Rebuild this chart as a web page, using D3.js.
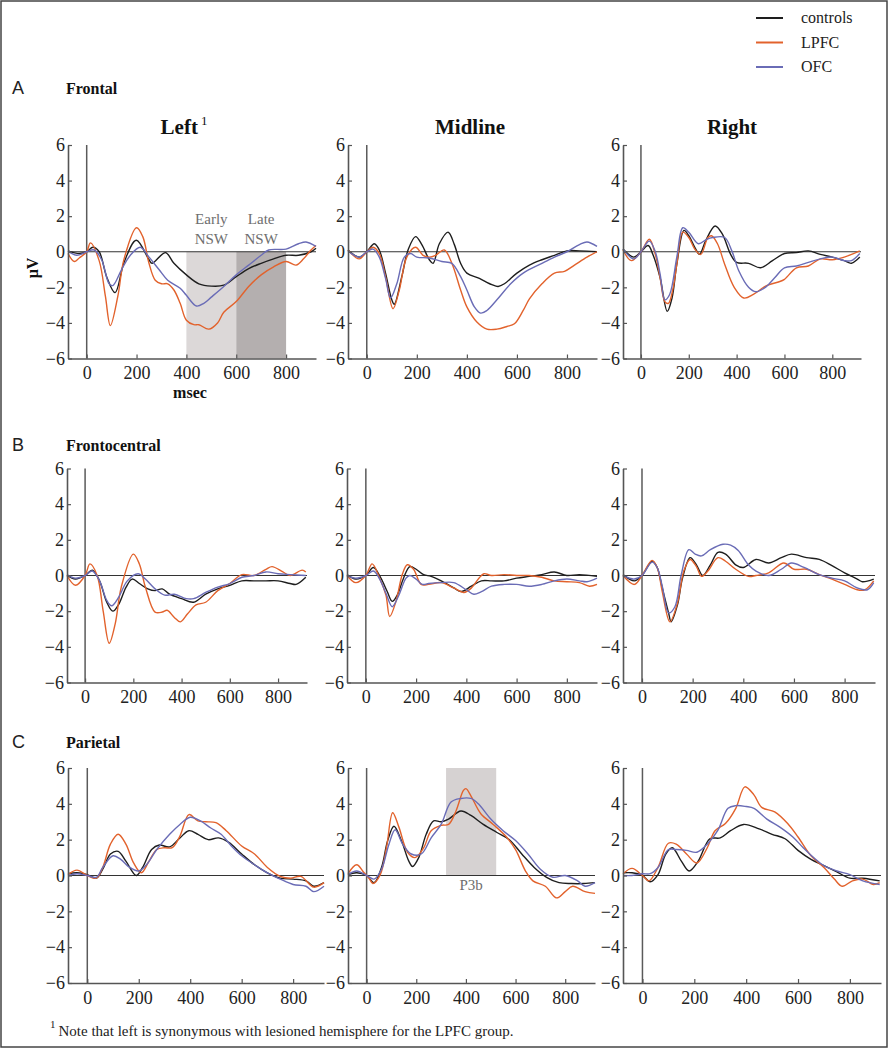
<!DOCTYPE html>
<html><head><meta charset="utf-8">
<script src="https://cdn.jsdelivr.net/npm/d3@7/dist/d3.min.js"></script>
<style>body{margin:0;background:#fff}svg{display:block}</style>
</head><body>
<script>
// ---------- data (ms, µV) ----------
const groups = ["controls", "LPFC", "OFC"];
const xTicks = [0, 200, 400, 600, 800];
const yTicks = [-6, -4, -2, 0, 2, 4, 6];
const rowNames = ["Frontal", "Frontocentral", "Parietal"];
const rowLetters = ["A", "B", "C"];
const colNames = ["Left", "Midline", "Right"];

// Frontal
const frontalLeftControls = [[-75,0.05],[-30,-0.1],[0,0],[25,0.25],[50,0],[80,-1.4],[114,-2.3],[150,-0.6],[199,0.65],[250,-0.45],[262,-0.65],[316,-0.05],[350,-0.65],[400,-1.3],[450,-1.8],[500,-1.93],[550,-1.88],[600,-1.4],[650,-0.95],[700,-0.65],[750,-0.4],[800,-0.2],[850,-0.2],[900,0],[920,0.2]];
const frontalLeftLPFC = [[-75,-0.1],[-50,-0.55],[-30,-0.35],[0,0],[15,0.5],[50,-0.5],[75,-2.5],[95,-4.15],[125,-2.5],[150,-0.4],[200,1.35],[225,0.85],[250,-0.65],[275,-1.6],[300,-1.8],[325,-1.8],[350,-2.15],[375,-2.9],[400,-3.85],[430,-4.1],[450,-4.1],[490,-4.35],[525,-4.0],[550,-3.4],[600,-2.8],[650,-1.95],[700,-1.3],[750,-0.85],[800,-0.55],[840,-0.75],[870,-0.4],[900,0.1],[920,0.35]];
const frontalLeftOFC = [[-75,0.05],[-40,-0.2],[0,0],[30,0.1],[60,-0.45],[90,-1.8],[105,-1.9],[140,-1.0],[175,-0.2],[215,0.25],[250,-0.3],[290,-1.0],[325,-1.6],[375,-2.05],[400,-2.45],[440,-3.05],[470,-2.9],[500,-2.55],[550,-1.95],[600,-1.3],[650,-0.75],[700,-0.2],[730,0.1],[800,0.15],[850,0.45],[880,0.55],[920,0.3]];
const frontalMidControls = [[-75,0.1],[-30,-0.3],[0,0],[30,0.45],[50,0.1],[75,-1.2],[100,-2.7],[110,-2.95],[140,-1.4],[165,0.1],[195,0.85],[220,0.4],[250,-0.45],[265,-0.65],[290,0.45],[325,1.1],[350,0.4],[375,-0.65],[400,-1.2],[450,-1.5],[500,-1.85],[525,-1.95],[550,-1.8],[600,-1.2],[650,-0.75],[700,-0.45],[750,-0.2],[800,0.05],[850,0.05],[920,0]];
const frontalMidLPFC = [[-75,0.1],[-30,-0.4],[0,0],[25,0.25],[50,-0.1],[75,-1.4],[105,-3.2],[130,-2.15],[160,-0.3],[195,0.25],[225,-0.2],[250,-0.3],[275,-0.2],[310,0.1],[340,-0.65],[375,-2.15],[400,-3.1],[440,-3.95],[480,-4.35],[520,-4.35],[560,-4.2],[590,-4.05],[625,-3.3],[650,-2.65],[700,-1.8],[750,-1.2],[790,-1.1],[830,-0.75],[880,-0.3],[920,0]];
const frontalMidOFC = [[-75,0.05],[-30,-0.3],[0,0],[25,0.15],[50,-0.3],[75,-1.5],[95,-2.6],[120,-1.8],[150,-0.3],[175,-0.1],[200,-0.3],[250,-0.35],[300,-0.55],[340,-0.65],[375,-1.4],[400,-2.15],[430,-3.1],[455,-3.45],[480,-3.3],[520,-2.7],[575,-1.8],[625,-1.2],[700,-0.65],[750,-0.3],[800,0],[850,0.4],[880,0.55],[920,0.3]];
const frontalRightControls = [[-75,0.15],[-30,-0.3],[0,0],[30,0.35],[50,-0.15],[80,-1.45],[110,-3.35],[130,-2.6],[150,-0.7],[180,1.2],[200,0.9],[225,0.25],[245,-0.15],[270,0.6],[310,1.45],[340,1.0],[375,-0.15],[400,-0.6],[450,-0.65],[500,-0.9],[550,-0.5],[600,-0.1],[650,-0.05],[700,0.05],[750,-0.15],[800,-0.3],[850,-0.5],[880,-0.65],[915,-0.3]];
const frontalRightLPFC = [[-75,0.1],[-40,-0.5],[0,0],[35,0.7],[60,-0.15],[80,-1.45],[100,-2.8],[115,-2.9],[135,-2.0],[150,-0.7],[175,1.1],[200,0.8],[225,0.15],[250,-0.15],[280,0.8],[295,0.9],[320,0.45],[350,-0.7],[390,-2.0],[430,-2.6],[470,-2.4],[525,-1.9],[575,-1.7],[600,-1.55],[650,-0.9],[700,-0.8],[750,-0.4],[800,-0.45],[850,-0.3],[915,0.05]];
const frontalRightOFC = [[-75,0.15],[-30,-0.4],[0,0],[35,0.6],[60,0],[80,-1.25],[100,-2.7],[120,-2.4],[150,-0.3],[175,1.35],[200,1.1],[240,0.45],[275,0.7],[300,0.8],[350,0.8],[380,0.05],[410,-1.1],[450,-2.0],[480,-2.25],[520,-2.0],[560,-1.45],[600,-0.9],[650,-0.8],[700,-0.6],[750,-0.4],[800,-0.3],[850,-0.5],[880,-0.5],[915,-0.1]];

// Frontocentral
const frontocentralLeftControls = [[-75,0],[-40,-0.2],[0,0],[30,0.3],[60,-0.3],[90,-1.5],[115,-2.0],[140,-1.6],[170,-0.65],[195,-0.2],[225,-0.45],[260,-0.75],[290,-0.85],[320,-0.75],[350,-1.05],[400,-1.3],[450,-1.5],[500,-1.05],[550,-0.75],[600,-0.55],[650,-0.3],[700,-0.3],[750,-0.3],[800,-0.3],[850,-0.45],[875,-0.5],[915,-0.1]];
const frontocentralLeftLPFC = [[-75,0],[-40,-0.55],[0,0],[20,0.65],[50,0],[75,-2.0],[100,-3.8],[125,-2.7],[150,-0.65],[200,1.2],[225,0.65],[250,-0.65],[290,-2.05],[320,-2.05],[340,-1.95],[370,-2.35],[395,-2.6],[425,-2.15],[460,-1.65],[500,-1.5],[550,-0.85],[600,-0.45],[650,0.05],[700,0],[750,0.35],[775,0.5],[820,0.2],[850,0],[900,0.3],[915,0.2]];
const frontocentralLeftOFC = [[-75,0.05],[-40,-0.15],[0,0],[30,0.25],[60,-0.3],[90,-1.4],[110,-1.7],[140,-1.2],[175,-0.3],[220,0.1],[250,-0.2],[290,-0.75],[330,-1.1],[370,-1.05],[420,-1.3],[450,-1.3],[500,-0.95],[550,-0.65],[600,-0.45],[650,-0.1],[700,0],[750,0.2],[800,0.1],[850,0.05],[915,0]];
const frontocentralMidControls = [[-75,0.05],[-40,-0.2],[0,0],[30,0.45],[60,-0.15],[85,-0.9],[105,-1.45],[125,-1.1],[150,-0.15],[175,0.5],[200,0.35],[230,0.05],[260,-0.05],[300,-0.3],[350,-0.7],[380,-0.9],[420,-0.6],[460,-0.3],[500,-0.3],[550,-0.3],[600,-0.15],[650,-0.05],[700,0.05],[750,0.2],[800,0],[850,0.05],[920,-0.05]];
const frontocentralMidLPFC = [[-75,0],[-40,-0.4],[0,0],[25,0.65],[55,-0.15],[80,-1.1],[95,-2.3],[120,-1.45],[145,0.05],[165,0.6],[190,0.35],[220,-0.5],[250,-0.5],[300,-0.4],[350,-0.7],[390,-0.95],[420,-0.7],[450,-0.15],[470,0.1],[500,0],[550,0.05],[600,0],[650,0],[700,-0.1],[750,-0.3],[800,-0.35],[850,-0.4],[890,-0.6],[920,-0.5]];
const frontocentralMidOFC = [[-75,0],[-40,-0.15],[0,0],[30,0.25],[55,-0.2],[80,-1.0],[105,-1.75],[130,-1.15],[160,-0.15],[175,0],[200,-0.2],[225,-0.5],[250,-0.45],[300,-0.4],[350,-0.4],[400,-0.8],[430,-1.05],[460,-0.9],[500,-0.6],[550,-0.5],[600,-0.5],[650,-0.6],[700,-0.5],[750,-0.3],[800,-0.2],[850,-0.3],[880,-0.35],[920,-0.15]];
const frontocentralRightControls = [[-75,0.05],[-30,-0.3],[0,0],[40,0.8],[60,0.45],[80,-0.7],[105,-2.1],[115,-2.6],[140,-1.65],[160,-0.15],[190,1.0],[215,0.6],[240,0],[270,0.6],[300,1.3],[330,1.2],[370,0.6],[400,0.45],[450,0.9],[500,0.7],[550,1.0],[590,1.2],[650,1.0],[700,0.9],[750,0.55],[800,0.15],[850,-0.2],[870,-0.35],[915,-0.2]];
const frontocentralRightLPFC = [[-75,0],[-30,-0.5],[0,0],[40,0.85],[60,0.45],[80,-0.9],[110,-2.6],[140,-1.55],[165,0.25],[190,0.9],[215,0.5],[235,-0.05],[260,0.25],[300,1.0],[330,0.8],[370,0.35],[420,-0.05],[450,0],[500,0.15],[560,0.7],[600,0.35],[650,0.35],[700,0.05],[750,-0.2],[800,-0.5],[850,-0.8],[880,-0.8],[915,-0.3]];
const frontocentralRightOFC = [[-75,0],[-30,-0.2],[0,0],[40,0.75],[60,0.45],[80,-0.6],[105,-2.1],[130,-1.75],[155,0.05],[185,1.45],[210,1.2],[235,1.1],[270,1.45],[320,1.75],[350,1.7],[380,1.4],[420,0.6],[450,0.25],[500,0],[550,0.35],[590,0.7],[640,0.45],[700,0.05],[750,-0.15],[800,-0.3],[850,-0.7],[890,-0.8],[915,-0.4]];

// Parietal
const parietalLeftControls = [[-75,0.1],[-40,0.15],[0,0.05],[35,-0.15],[60,0.35],[90,1.2],[120,1.35],[150,0.8],[190,0],[215,0.45],[250,1.45],[280,1.7],[320,1.6],[360,2.1],[395,2.5],[430,2.3],[470,2.0],[510,2.1],[550,1.85],[600,1.2],[650,0.6],[700,0.15],[750,-0.15],[800,-0.2],[850,-0.3],[880,-0.6],[920,-0.4]];
const parietalLeftLPFC = [[-75,0.05],[-40,0.3],[0,0],[35,-0.15],[60,0.45],[90,1.75],[120,2.3],[150,1.75],[180,0.7],[210,0.15],[240,0.8],[270,1.45],[300,1.55],[330,1.55],[360,2.2],[395,3.4],[430,3.05],[460,3.0],[500,2.95],[540,2.5],[600,1.65],[650,1.2],[700,0.45],[750,-0.05],[790,-0.15],[830,-0.05],[880,-0.65],[920,-0.4]];
const parietalLeftOFC = [[-75,0],[-40,0.1],[0,0],[35,-0.1],[60,0.45],[100,1.1],[130,0.9],[160,0.5],[200,0.25],[230,0.6],[270,1.45],[320,2.3],[360,2.85],[400,3.25],[440,3.05],[480,2.65],[520,2.3],[560,1.65],[600,1.1],[650,0.6],[700,0.15],[750,-0.2],[800,-0.5],[850,-0.6],[880,-0.9],[920,-0.6]];
const parietalMidControls = [[-75,0.05],[-40,0.15],[0,0],[30,-0.4],[60,0.45],[85,1.95],[110,2.75],[140,1.95],[170,0.8],[185,0.5],[210,1.0],[240,2.3],[270,3.05],[300,3.0],[330,3.15],[380,3.6],[420,3.35],[470,2.85],[525,2.4],[575,2.0],[625,1.2],[675,0.45],[725,-0.1],[775,-0.4],[825,-0.45],[875,-0.45],[920,-0.4]];
const parietalMidLPFC = [[-75,0.1],[-40,0.6],[-10,0.15],[10,-0.15],[25,-0.45],[55,0.05],[80,1.55],[105,3.5],[130,2.7],[165,1.3],[195,1.0],[230,1.55],[260,2.5],[300,2.8],[330,2.85],[360,3.6],[390,4.75],[400,4.85],[420,4.45],[460,3.45],[510,2.85],[560,2.2],[600,1.45],[640,0.25],[670,-0.3],[720,-0.6],[765,-1.25],[800,-0.9],[830,-0.6],[880,-0.9],[920,-1.0]];
const parietalMidOFC = [[-75,0.05],[-40,0.25],[0,0],[30,-0.2],[60,0.35],[90,1.75],[115,2.55],[145,1.75],[180,1.2],[220,1.2],[260,2.1],[300,2.85],[340,4.1],[380,4.3],[420,4.3],[450,4.0],[500,3.15],[550,2.5],[600,1.95],[650,1.2],[700,0.35],[750,-0.1],[800,0],[850,-0.3],[880,-0.6],[920,-0.4]];
const parietalRightControls = [[-75,0.15],[-40,0.15],[0,0],[30,-0.35],[60,0.05],[90,1.2],[115,1.55],[150,0.8],[180,0.25],[215,0.8],[260,2.05],[300,2.1],[340,2.5],[390,2.85],[450,2.6],[500,2.3],[550,2.05],[600,1.4],[650,0.9],[700,0.55],[750,0.2],[800,-0.15],[850,-0.15],[915,-0.3]];
const parietalRightLPFC = [[-75,0.1],[-40,0.4],[0,0],[25,-0.3],[60,0.45],[100,1.8],[130,1.75],[170,1.2],[210,0.7],[250,1.55],[280,2.5],[320,2.9],[360,3.75],[395,4.95],[430,4.5],[460,3.8],[510,3.55],[560,2.9],[600,2.15],[650,1.1],[700,0.45],[740,-0.2],[770,-0.6],[810,-0.3],[850,-0.2],[890,-0.5],[915,-0.4]];
const parietalRightOFC = [[-75,0],[-40,0],[0,0.1],[30,0.1],[60,0.45],[100,1.45],[130,1.45],[170,1.4],[210,1.3],[250,1.75],[290,2.5],[330,3.75],[360,3.9],[400,3.85],[430,3.75],[480,3.15],[530,2.7],[580,2.15],[620,1.55],[660,1.0],[700,0.55],[750,0.25],[800,0.05],[850,-0.3],[915,-0.5]];

// shaded windows (ms)
const nswEarly = [400, 600];
const nswLate = [600, 800];
const p3bWindow = [320, 522];

const panelSeries = [
  [[frontalLeftControls, frontalLeftLPFC, frontalLeftOFC],
   [frontalMidControls, frontalMidLPFC, frontalMidOFC],
   [frontalRightControls, frontalRightLPFC, frontalRightOFC]],
  [[frontocentralLeftControls, frontocentralLeftLPFC, frontocentralLeftOFC],
   [frontocentralMidControls, frontocentralMidLPFC, frontocentralMidOFC],
   [frontocentralRightControls, frontocentralRightLPFC, frontocentralRightOFC]],
  [[parietalLeftControls, parietalLeftLPFC, parietalLeftOFC],
   [parietalMidControls, parietalMidLPFC, parietalMidOFC],
   [parietalRightControls, parietalRightLPFC, parietalRightOFC]]
];

// ---------- layout / style ----------
const W = 888, H = 1050;
const colors = {controls: "#1e1e1e", LPFC: "#e2622c", OFC: "#6a6cb6"};
const rowsLayout = [
  {top: 145, bottom: 358.5, cols: [[68, 316], [348, 597], [623, 861]]},
  {top: 468.5, bottom: 682.5, cols: [[67, 307], [347, 597], [623, 875]]},
  {top: 768, bottom: 983, cols: [[68, 324], [348, 595], [623, 881]]}
];
const serif = "'Liberation Serif','Times New Roman',serif";

const svg = d3.select("body").append("svg").attr("width", W).attr("height", H);
svg.append("rect").attr("x", 1).attr("y", 1).attr("width", W - 2).attr("height", H - 4)
  .attr("fill", "#fff").attr("stroke", "#444").attr("stroke-width", 1.5);

// legend
const legend = svg.append("g");
groups.forEach((g, i) => {
  const y = 18 + i * 24.5;
  legend.append("line").attr("x1", 756).attr("x2", 783).attr("y1", y).attr("y2", y)
    .attr("stroke", colors[g]).attr("stroke-width", 2);
  legend.append("text").attr("x", 801).attr("y", y + 5).text(g)
    .attr("font-family", serif).attr("font-size", 16).attr("fill", "#222");
});

// row labels
const rowLabelY = [94, 451, 748];
rowLetters.forEach((L, i) => {
  svg.append("text").attr("x", 12).attr("y", rowLabelY[i]).text(L)
    .attr("font-family", "'Liberation Sans',Arial,sans-serif").attr("font-size", 18).attr("fill", "#222");
  svg.append("text").attr("x", 66).attr("y", rowLabelY[i]).text(rowNames[i])
    .attr("font-family", serif).attr("font-weight", "bold").attr("font-size", 16).attr("fill", "#111");
});

// column headers
const colHeadX = [184, 470, 732];
colNames.forEach((c, i) => {
  const t = svg.append("text").attr("x", colHeadX[i]).attr("y", 134).attr("text-anchor", "middle")
    .attr("font-family", serif).attr("font-weight", "bold").attr("font-size", 21).attr("fill", "#111").text(c);
  if (i === 0) t.append("tspan").attr("dy", -9).attr("dx", 3).attr("font-size", 13).attr("font-weight", "normal").text("1");
});

const curve = d3.curveCatmullRom.alpha(0.5);

rowsLayout.forEach((row, ri) => {
  row.cols.forEach((cx, ci) => {
    const x = d3.scaleLinear().domain([-75, 920]).range(cx);
    const y = d3.scaleLinear().domain([-6, 6]).range([row.bottom, row.top]);
    const g = svg.append("g");

    // shading
    if (ri === 0 && ci === 0) {
      g.append("rect").attr("x", x(nswEarly[0])).attr("width", x(nswEarly[1]) - x(nswEarly[0]))
        .attr("y", y(0)).attr("height", y(-6) - y(0)).attr("fill", "#dcd8d8");
      g.append("rect").attr("x", x(nswLate[0])).attr("width", x(nswLate[1]) - x(nswLate[0]))
        .attr("y", y(0)).attr("height", y(-6) - y(0)).attr("fill", "#b4afaf");
      const lab = [["Early", "NSW", (nswEarly[0] + nswEarly[1]) / 2], ["Late", "NSW", (nswLate[0] + nswLate[1]) / 2]];
      lab.forEach(([a, b, m]) => {
        g.append("text").attr("x", x(m)).attr("y", y(1.55)).attr("text-anchor", "middle").text(a)
          .attr("font-family", serif).attr("font-size", 15).attr("fill", "#6e6e6e");
        g.append("text").attr("x", x(m)).attr("y", y(0.45)).attr("text-anchor", "middle").text(b)
          .attr("font-family", serif).attr("font-size", 15).attr("fill", "#6e6e6e");
      });
    }
    if (ri === 2 && ci === 1) {
      g.append("rect").attr("x", x(p3bWindow[0])).attr("width", x(p3bWindow[1]) - x(p3bWindow[0]))
        .attr("y", y(6)).attr("height", y(0) - y(6)).attr("fill", "#d6d2d2");
      g.append("text").attr("x", x((p3bWindow[0] + p3bWindow[1]) / 2)).attr("y", y(-0.8))
        .attr("text-anchor", "middle").text("P3b")
        .attr("font-family", serif).attr("font-size", 15).attr("fill", "#6e6e6e");
    }

    // zero lines
    g.append("line").attr("x1", x(-75)).attr("x2", x(920)).attr("y1", y(0)).attr("y2", y(0))
      .attr("stroke", "#333").attr("stroke-width", 1.2);
    g.append("line").attr("x1", x(0)).attr("x2", x(0)).attr("y1", y(6)).attr("y2", y(-6))
      .attr("stroke", "#5a5a5a").attr("stroke-width", 1.5);

    // series
    const line = d3.line().x(d => x(d[0])).y(d => y(d[1])).curve(curve);
    panelSeries[ri][ci].forEach((s, k) => {
      g.append("path").attr("d", line(s)).attr("fill", "none")
        .attr("stroke", colors[groups[k]]).attr("stroke-width", 1.4);
    });

    // axes
    const xa = g.append("g").attr("transform", `translate(0,${row.bottom})`)
      .call(d3.axisBottom(x).tickValues(xTicks).tickSizeInner(-4).tickSizeOuter(0).tickPadding(10));
    const ya = g.append("g").attr("transform", `translate(${cx[0]},0)`)
      .call(d3.axisLeft(y).tickValues(yTicks).tickSizeInner(-4).tickSizeOuter(0).tickPadding(3)
        .tickFormat(d => d < 0 ? "\u2212" + Math.abs(d) : String(d)));
    [xa, ya].forEach(a => {
      a.select(".domain").attr("stroke", "#555").attr("stroke-width", 1.6);
      a.selectAll(".tick line").attr("stroke", "#555").attr("stroke-width", 1.2);
      a.selectAll("text").attr("font-family", serif).attr("font-size", 18).attr("fill", "#222");
    });
    xa.selectAll("text").attr("dy", "0.71em").attr("y", 8);
  });
});

// axis titles
svg.append("text").attr("transform", "translate(38,268) rotate(-90)").attr("text-anchor", "middle")
  .attr("font-family", serif).attr("font-weight", "bold").attr("font-size", 16).attr("fill", "#111").text("\u03bcV");
svg.append("text").attr("x", 190).attr("y", 398).attr("text-anchor", "middle")
  .attr("font-family", serif).attr("font-weight", "bold").attr("font-size", 16).attr("fill", "#111").text("msec");

// footnote
const fn = svg.append("text").attr("x", 50).attr("y", 1036).attr("font-family", serif).attr("font-size", 15).attr("fill", "#222");
fn.append("tspan").attr("font-size", 11).attr("dy", -8).text("1");
fn.append("tspan").attr("dy", 8).attr("dx", 3).text("Note that left is synonymous with lesioned hemisphere for the LPFC group.");
</script>
</body></html>
